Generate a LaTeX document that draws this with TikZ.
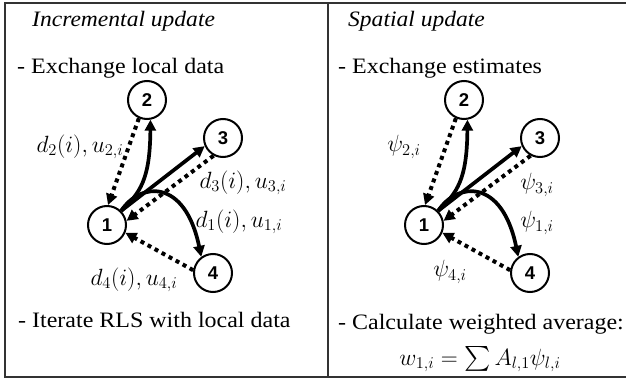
\RequirePackage{fix-cm}
\documentclass[tikz,border=0pt]{standalone}
\usepackage{exscale}
\usepackage{fontspec}
\setmainfont{Liberation Serif}
\newfontfamily\digitfont{Liberation Sans}
\usetikzlibrary{arrows.meta}

% slightly widened text, as set in the table cells
\newcommand\wide[1]{\scalebox{1.09}[1]{#1}}
\newcommand\wideit[1]{\scalebox{1.07}[1]{\itshape #1}}

% one star of four agents: 1 sends to 2,3,4 (solid), receives from them (dotted)
\newcommand\drawfan{%
  \node[peer] (n1) at (107,225) {1};
  \node[peer] (n2) at (147,100) {2};
  \node[peer] (n3) at (223,138) {3};
  \node[peer] (n4) at (213,273) {4};
  \draw[recv] (n2.246) -- (n1.87);
  \draw[recv] (n3.242) -- (n1.12);
  \draw[recv] (n4.172) -- (n1.337);
  \draw[send] (n1.45) .. controls (140,193) and (150,180) .. (n2.280);
  \draw[send] (n1.45) -- (n3.204);
  \draw[send] (n1.45) .. controls (140,182) and (185,178) .. (n4.126);
}

\begin{document}
\begin{tikzpicture}[x=1pt,y=-1pt,
  every node/.style={inner sep=0pt},
  txt/.style={font=\fontsize{22}{26}\selectfont, anchor=base west},
  lbl/.style={font=\fontsize{23.5}{28}\selectfont},
  peer/.style={circle, draw, line width=2pt, minimum size=38pt, fill=white,
    font=\fontsize{18.5}{20}\selectfont\digitfont\bfseries},
  send/.style={line width=3.7pt, -{Triangle[length=11pt,width=11pt]}},
  recv/.style={line width=4pt, dash pattern=on 4pt off 4pt,
    -{Triangle[length=11pt,width=11pt]}},
  frame/.style={line width=1.2pt, black!80}]
\useasboundingbox (0,0) rectangle (626,379);

% table frame
\draw[frame] (626,3) -- (5,3) -- (5,377) -- (626,377);
\draw[frame] (328,3) -- (328,377);

% incremental update
\node[txt] (t1) at (32,27) {\wideit{Incremental update}};
\node[txt] (t2) at (17,74) {\wide{- Exchange local data}};
\begin{scope}[name prefix=L-]
  \drawfan
\end{scope}
\node[lbl] (l2) at (80,147) {$d_2(i), u_{2,i}$};
\node[lbl] (l3) at (243,183) {$d_3(i), u_{3,i}$};
\node[lbl] (l1) at (239,222) {$d_1(i), u_{1,i}$};
\node[lbl] (l4) at (134,280) {$d_4(i), u_{4,i}$};
\node[txt] (t3) at (18,327) {\wide{- Iterate RLS with local data}};

% spatial update
\node[txt] (t4) at (348,27) {\wideit{Spatial update}};
\node[txt] (t5) at (338,74) {\wide{- Exchange estimates}};
\begin{scope}[xshift=317pt, name prefix=R-]
  \drawfan
\end{scope}
\node[lbl] (p2) at (404,147) {$\psi_{2,i}$};
\node[lbl] (p3) at (537,185) {$\psi_{3,i}$};
\node[lbl] (p1) at (537,223) {$\psi_{1,i}$};
\node[lbl] (p4) at (450,272) {$\psi_{4,i}$};
\node[txt] (t6) at (338,329) {\wide{- Calculate weighted average:}};
\node[lbl, anchor=base] (t7) at (480,365) {$w_{1,i} = \sum A_{l,1}\psi_{l,i}$};
\end{tikzpicture}
\end{document}
